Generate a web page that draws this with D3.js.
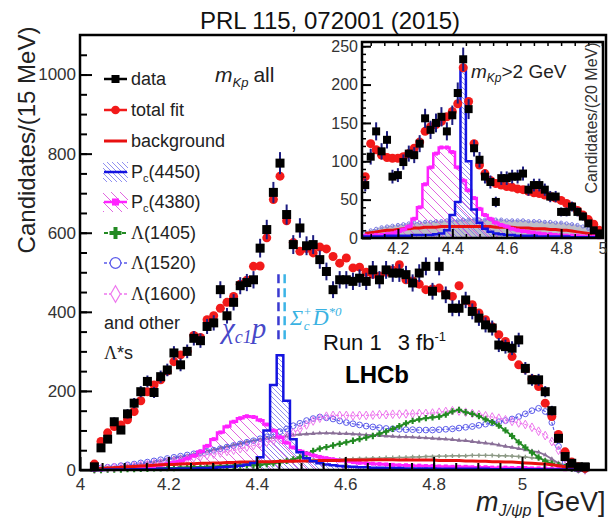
<!DOCTYPE html>
<html>
<head>
<meta charset="utf-8">
<title>LHCb Pc J/psi p mass</title>
<style>
  body { margin: 0; background: #fff; }
  text { font-family: Arial, "Liberation Sans", sans-serif; }
</style>
</head>
<body>
<script src="https://cdn.jsdelivr.net/npm/d3@7/dist/d3.min.js"></script>
<script>

// ---- main plot: m(J/psi p), 15 MeV bins ----
var massBins = [4.0325, 4.0475, 4.0625, 4.0775, 4.0925, 4.1075, 4.1225, 4.1375, 4.1525, 4.1675,
                4.1825, 4.1975, 4.2125, 4.2275, 4.2425, 4.2575, 4.2725, 4.2875, 4.3025, 4.3175,
                4.3325, 4.3475, 4.3625, 4.3775, 4.3925, 4.4075, 4.4225, 4.4375, 4.4525, 4.4675,
                4.4825, 4.4975, 4.5125, 4.5275, 4.5425, 4.5575, 4.5725, 4.5875, 4.6025, 4.6175,
                4.6325, 4.6475, 4.6625, 4.6775, 4.6925, 4.7075, 4.7225, 4.7375, 4.7525, 4.7675,
                4.7825, 4.7975, 4.8125, 4.8275, 4.8425, 4.8575, 4.8725, 4.8875, 4.9025, 4.9175,
                4.9325, 4.9475, 4.9625, 4.9775, 4.9925, 5.0075, 5.0225, 5.0375, 5.0525, 5.0675,
                5.0825, 5.0975, 5.1125, 5.1275, 5.1425];
var dataCounts = [8, 56, 78, 122, 101, 142, 169, 198, 224, 196,
                  236, 253, 296, 266, 300, 333, 327, 363, 372, 456,
                  390, 424, 466, 474, 481, 561, 608, 702, 776, 646,
                  570, 612, 567, 570, 532, 502, 456, 481, 481, 477,
                  485, 477, 506, 481, 506, 498, 498, 494, 473, 498,
                  515, 452, 515, 443, 409, 409, 430, 401, 384, 367,
                  359, 316, 312, 308, 329, 257, 228, 228, 198, 150,
                  80, 34, 17, 8, 8];
var totalFit = [15, 72, 94, 110, 114, 127, 148, 175, 198, 215,
                228, 250, 274, 291, 300, 340, 335, 380, 390, 409,
                424, 439, 470, 480, 515, 516, 587, 684, 743, 630,
                575, 553, 560, 549, 564, 559, 540, 523, 536, 511,
                513, 500, 495, 490, 500, 505, 519, 481, 478, 470,
                456, 458, 460, 445, 439, 466, 428, 418, 397, 380,
                362, 342, 325, 287, 266, 255, 230, 211, 169, 135,
                90, 46, 20, 8, 4];
var bkgFit = [3, 4, 5, 6, 7, 8, 9, 10, 11, 12,
              13, 14, 14, 15, 16, 16, 17, 17, 18, 18,
              19, 19, 20, 20, 20, 21, 21, 21, 22, 22,
              22, 23, 23, 23, 24, 24, 24, 24, 25, 25,
              25, 25, 26, 26, 26, 26, 25, 26, 25, 25,
              25, 25, 24, 24, 24, 24, 23, 23, 22, 22,
              21, 21, 20, 20, 19, 18, 17, 16, 15, 13,
              11, 8, 5, 2, 1];
var pc4450 = [0, 0, 1, 1, 1, 1, 2, 2, 2, 2,
              3, 3, 3, 4, 4, 4, 5, 5, 6, 7,
              8, 9, 11, 13, 18, 32, 100, 215, 290, 175,
              78, 45, 30, 22, 17, 14, 12, 10, 9, 8,
              7, 7, 6, 6, 5, 5, 5, 4, 4, 4,
              4, 4, 3, 3, 3, 3, 3, 3, 3, 3,
              2, 2, 2, 2, 2, 2, 2, 2, 1, 1,
              1, 1, 1, 0, 0];
var pc4380 = [1, 1, 2, 2, 3, 4, 5, 6, 8, 10,
              12, 15, 19, 23, 29, 36, 47, 61, 78, 95,
              110, 122, 131, 136, 134, 126, 115, 100, 83, 69,
              57, 48, 42, 37, 33, 30, 27, 24, 22, 20,
              18, 17, 16, 15, 14, 13, 12, 12, 11, 11,
              10, 10, 9, 9, 8, 8, 8, 7, 7, 7,
              6, 6, 6, 5, 5, 5, 4, 4, 4, 3,
              3, 2, 2, 1, 1];
var lam1405 = [0, 0, 1, 1, 1, 2, 2, 3, 3, 4,
               4, 5, 5, 6, 6, 7, 7, 8, 8, 9,
               10, 10, 11, 12, 12, 13, 15, 17, 19, 23,
               27, 32, 40, 48, 54, 58, 62, 66, 70, 74,
               78, 82, 86, 92, 97, 104, 111, 118, 124, 128,
               131, 133, 135, 140, 148, 152, 146, 142, 136, 128,
               121, 112, 100, 86, 70, 57, 44, 32, 22, 16,
               12, 7, 3, 1, 0];
var lam1520 = [3, 5, 7, 9, 11, 13, 15, 18, 20, 23,
               26, 29, 32, 35, 38, 41, 44, 47, 50, 54,
               58, 62, 66, 70, 74, 79, 84, 90, 97, 104,
               112, 118, 125, 130, 134, 132, 129, 124, 120, 117,
               114, 111, 109, 107, 105, 104, 103, 102, 102, 101,
               101, 101, 102, 103, 104, 106, 108, 110, 113, 116,
               119, 122, 125, 129, 135, 142, 150, 156, 148, 120,
               60, 20, 5, 1, 0];
var lam1600 = [2, 3, 4, 6, 7, 8, 10, 12, 14, 16,
               18, 20, 22, 25, 28, 31, 34, 37, 40, 43,
               47, 50, 54, 58, 62, 66, 70, 74, 78, 86,
               94, 104, 114, 124, 131, 136, 138, 138, 138, 137,
               138, 138, 139, 140, 140, 141, 141, 142, 142, 143,
               143, 144, 146, 148, 150, 149, 146, 143, 140, 137,
               134, 131, 127, 123, 119, 115, 108, 98, 87, 72,
               50, 28, 10, 2, 0];
var otherLam = [1, 2, 3, 5, 7, 9, 12, 14, 17, 20,
                23, 27, 30, 33, 36, 40, 43, 47, 51, 55,
                59, 63, 67, 71, 74, 77, 80, 82, 84, 86,
                88, 90, 91, 92, 93, 93, 93, 92, 92, 91,
                90, 89, 88, 87, 86, 85, 84, 84, 83, 82,
                81, 80, 79, 78, 77, 75, 74, 72, 70, 68,
                66, 63, 60, 57, 54, 51, 48, 45, 38, 28,
                17, 8, 3, 1, 0];
var otherLam2 = [0, 1, 1, 1, 2, 2, 3, 3, 4, 4,
                 5, 5, 6, 6, 7, 7, 8, 9, 10, 11,
                 12, 13, 14, 15, 16, 17, 18, 19, 20, 21,
                 22, 23, 24, 25, 25, 26, 27, 27, 28, 28,
                 29, 29, 30, 30, 31, 31, 32, 32, 33, 33,
                 34, 34, 35, 35, 36, 36, 36, 37, 37, 37,
                 37, 36, 36, 35, 34, 33, 31, 29, 26, 23,
                 18, 12, 6, 2, 0];

// ---- inset: m(Kp) > 2 GeV, 20 MeV bins ----
var insetBins = [4.08, 4.10, 4.12, 4.14, 4.16, 4.18, 4.20, 4.22, 4.24, 4.26,
                 4.28, 4.30, 4.32, 4.34, 4.36, 4.38, 4.40, 4.42, 4.44, 4.46,
                 4.48, 4.50, 4.52, 4.54, 4.56, 4.58, 4.60, 4.62, 4.64, 4.66,
                 4.68, 4.70, 4.72, 4.74, 4.76, 4.78, 4.80, 4.82, 4.84, 4.86,
                 4.88, 4.90, 4.92, 4.94];
var insetData = [69, 106, 139, 113, 128, 80, 82, 99, 110, 108,
                 123, 156, 141, 150, 158, 139, 160, 189, 233, 168,
                 117, 102, 80, 73, 47, 78, 78, 80, 80, 84,
                 63, 69, 69, 63, 54, 54, 34, 34, 41, 34,
                 28, 19, 10, 6];
var insetFit = [80, 123, 115, 108, 105, 104, 104, 106, 110, 117,
                125, 139, 145, 148, 152, 158, 165, 175, 222, 178,
                123, 95, 84, 75, 71, 69, 67, 66, 64, 63,
                61, 59, 58, 56, 54, 52, 49, 45, 41, 36,
                30, 24, 18, 10];
var insetPc4450 = [2, 2, 2, 2, 3, 3, 3, 3, 3, 4,
                   4, 4, 4, 5, 6, 10, 30, 47, 223, 100,
                   37, 20, 12, 8, 6, 5, 4, 4, 3, 3,
                   3, 3, 2, 2, 2, 2, 2, 2, 1, 1,
                   1, 1, 1, 1];
var insetPc4380 = [3, 3, 4, 4, 5, 6, 8, 11, 15, 25,
                   40, 70, 92, 110, 118, 118, 112, 92, 75, 62,
                   52, 38, 30, 25, 20, 17, 15, 12, 10, 9,
                   8, 7, 6, 5, 5, 4, 4, 3, 3, 3,
                   2, 2, 2, 1];
var insetBkg = [6, 7, 8, 9, 10, 10, 11, 12, 12, 13,
                13, 14, 14, 14, 15, 15, 15, 15, 15, 15,
                15, 15, 15, 15, 14, 14, 14, 14, 13, 13,
                13, 12, 12, 12, 11, 11, 10, 10, 9, 8,
                7, 6, 4, 2];
var insetOther = [8, 10, 12, 14, 15, 16, 17, 18, 19, 20,
                  20, 21, 21, 22, 22, 23, 23, 23, 24, 24,
                  24, 24, 24, 24, 24, 24, 23, 23, 23, 23,
                  22, 22, 22, 21, 21, 20, 20, 19, 18, 17,
                  15, 12, 9, 5];

// tick labels
var xTicks = [4, 4.2, 4.4, 4.6, 4.8, 5];
var xTickLabels = ["4", "4.2", "4.4", "4.6", "4.8", "5"];
var yTicks = [0, 200, 400, 600, 800, 1000];
var yTickLabels = ["0", "200", "400", "600", "800", "1000"];
var insetXTicks = [4.2, 4.4, 4.6, 4.8, 5];
var insetXTickLabels = ["4.2", "4.4", "4.6", "4.8", "5"];
var insetYTicks = [0, 50, 100, 150, 200, 250];

var legendLabels = ["data", "total fit", "background", "Pc(4450)", "Pc(4380)",
                    "Λ(1405)", "Λ(1520)", "Λ(1600)"];

// threshold lines
var chic1pThreshold = 4.449;
var sigmaDThreshold = 4.463;

var width = 608;
var height = 518;

var svg = d3.select("body")
            .append("svg")
            .attr("width", width)
            .attr("height", height);

// hatch patterns
var defs = svg.append("defs");
defs.append("pattern")
    .attr("id", "hatchBlue")
    .attr("patternUnits", "userSpaceOnUse")
    .attr("width", 5).attr("height", 5)
    .append("path")
    .attr("d", "M0,0 L5,5 M-1,4 L1,6 M4,-1 L6,1")
    .attr("stroke", "#7474ee")
    .attr("stroke-width", 0.8);
defs.append("pattern")
    .attr("id", "hatchMag")
    .attr("patternUnits", "userSpaceOnUse")
    .attr("width", 9).attr("height", 9)
    .append("path")
    .attr("d", "M0,0 L9,9 M-1,8 L1,10 M8,-1 L10,1")
    .attr("stroke", "#dd55dd")
    .attr("stroke-width", 0.9);

// scales
var x = d3.scaleLinear().domain([4.0, 5.19]).range([80, 606]);
var y = d3.scaleLinear().domain([0, 1100]).range([470, 35]);
var ix = d3.scaleLinear().domain([4.068, 4.954]).range([362, 603]);
var iy = d3.scaleLinear().domain([0, 255.5]).range([238, 42]);

// step outline of a histogram (closed to zero at both ends)
function histPath(sx, sy, bins, vals, w) {
  var pts = [[bins[0] - w / 2, 0]];
  bins.forEach(function(b, i) {
    pts.push([b - w / 2, vals[i]]);
    pts.push([b + w / 2, vals[i]]);
  });
  pts.push([bins[bins.length - 1] + w / 2, 0]);
  return d3.line()
           .x(function(d) { return sx(d[0]); })
           .y(function(d) { return sy(d[1]); })(pts);
}

function drawHist(g, sx, sy, bins, vals, w, color, lw, pattern) {
  if (pattern) {
    g.append("path")
     .attr("d", histPath(sx, sy, bins, vals, w) + "Z")
     .attr("fill", "url(#" + pattern + ")");
  }
  g.append("path")
   .attr("d", histPath(sx, sy, bins, vals, w))
   .attr("fill", "none")
   .attr("stroke", color)
   .attr("stroke-width", lw);
}

function drawCurve(g, sx, sy, bins, vals, color, lw, dash, symbol, size, filled) {
  var line = d3.line()
               .x(function(d, i) { return sx(bins[i]); })
               .y(function(d) { return sy(d); });
  g.append("path")
   .attr("d", line(vals))
   .attr("fill", "none")
   .attr("stroke", color)
   .attr("stroke-width", lw)
   .attr("stroke-dasharray", dash);
  if (symbol) {
    g.selectAll(null)
     .data(vals)
     .enter()
     .append("path")
     .attr("transform", function(d, i) { return "translate(" + sx(bins[i]) + "," + sy(d) + ")"; })
     .attr("d", d3.symbol().type(symbol).size(size))
     .attr("fill", filled ? color : "none")
     .attr("stroke", filled ? "none" : color)
     .attr("stroke-width", 1);
  }
}

function drawData(g, sx, sy, bins, vals, fit, sq, r) {
  // total fit points
  g.selectAll(null)
   .data(fit)
   .enter()
   .append("circle")
   .attr("cx", function(d, i) { return sx(bins[i]); })
   .attr("cy", function(d) { return sy(d); })
   .attr("r", r)
   .attr("fill", "#f21a1a");
  // error bars
  g.selectAll(null)
   .data(vals)
   .enter()
   .append("line")
   .attr("x1", function(d, i) { return sx(bins[i]); })
   .attr("x2", function(d, i) { return sx(bins[i]); })
   .attr("y1", function(d) { return sy(Math.max(0, d - Math.sqrt(d))); })
   .attr("y2", function(d) { return sy(d + Math.sqrt(d)); })
   .attr("stroke", "#1c1c80")
   .attr("stroke-width", 2);
  // data squares
  g.selectAll(null)
   .data(vals)
   .enter()
   .append("rect")
   .attr("x", function(d, i) { return sx(bins[i]) - sq / 2; })
   .attr("y", function(d) { return sy(d) - sq / 2; })
   .attr("width", sq)
   .attr("height", sq)
   .attr("fill", "#000");
}

function styleAxis(g, fontSize, lw) {
  g.select(".domain").remove();
  g.selectAll(".tick line").attr("stroke", "#000").attr("stroke-width", lw);
  g.selectAll(".tick text")
   .attr("fill", "#333")
   .style("font-size", fontSize + "px")
   .style("font-family", "Arial, 'Liberation Sans', sans-serif");
}

// ================= main plot =================
var main = svg.append("g");

// hatched Pc components
drawHist(main, x, y, massBins, pc4380, 0.015, "none", 0, "hatchMag");
drawHist(main, x, y, massBins, pc4450, 0.015, "none", 0, "hatchBlue");

// other Lambda* and Lambda components
drawCurve(main, x, y, massBins, otherLam2, "#8d9a86", 1.4, null, d3.symbolCross, 10, true);
drawCurve(main, x, y, massBins, otherLam, "#8a7098", 1.8, null, d3.symbolTriangle, 10, true);
drawCurve(main, x, y, massBins, lam1520, "#5b5bea", 1.2, "3,2", d3.symbolCircle, 26, false);
drawCurve(main, x, y, massBins, lam1600, "#ee77ee", 1.2, "3,2", d3.symbolDiamond, 22, false);
drawCurve(main, x, y, massBins, lam1405, "#238a23", 1.8, null, d3.symbolCross, 22, true);

// Pc(4380) magenta histogram with markers
drawHist(main, x, y, massBins, pc4380, 0.015, "#ff22ff", 2.5, null);
main.selectAll(null)
    .data(pc4380)
    .enter()
    .append("rect")
    .attr("x", function(d, i) { return x(massBins[i]) - 2; })
    .attr("y", function(d) { return y(d) - 2; })
    .attr("width", 4).attr("height", 4)
    .attr("fill", "#ff22ff");

// background
drawCurve(main, x, y, massBins, bkgFit, "#e81010", 3, null, null);

// Pc(4450) blue histogram
drawHist(main, x, y, massBins, pc4450, 0.015, "#1414e0", 2.5, null);

// data and total fit
drawData(main, x, y, massBins, dataCounts, totalFit, 9, 4.5);

// threshold dashed lines
main.append("line")
    .attr("x1", x(chic1pThreshold)).attr("x2", x(chic1pThreshold))
    .attr("y1", y(495)).attr("y2", y(322))
    .attr("stroke", "#3a3ad0").attr("stroke-width", 2.5).attr("stroke-dasharray", "9,5");
main.append("line")
    .attr("x1", x(sigmaDThreshold)).attr("x2", x(sigmaDThreshold))
    .attr("y1", y(495)).attr("y2", y(322))
    .attr("stroke", "#3cb4e6").attr("stroke-width", 2.5).attr("stroke-dasharray", "9,5");

// axes (ticks pointing inward)
var gy = svg.append("g").attr("transform", "translate(80,0)")
            .call(d3.axisLeft(y).tickValues(yTicks).tickSize(-12).tickPadding(4)
                    .tickFormat(function(d, i) { return yTickLabels[i]; }));
styleAxis(gy, 17, 2);
var gyMinor = svg.append("g").attr("transform", "translate(80,0)")
                 .call(d3.axisLeft(y).tickValues(d3.range(50, 1100, 50)).tickSize(-7).tickFormat(""));
styleAxis(gyMinor, 17, 2);

var gx = svg.append("g").attr("transform", "translate(0,470)")
            .call(d3.axisBottom(x).tickValues(xTicks).tickSize(-13).tickPadding(8)
                    .tickFormat(function(d, i) { return xTickLabels[i]; }));
styleAxis(gx, 17, 2);
var gxMinor = svg.append("g").attr("transform", "translate(0,470)")
                 .call(d3.axisBottom(x).tickValues(d3.range(4.05, 5.19, 0.05)).tickSize(-7).tickFormat(""));
styleAxis(gxMinor, 17, 2);

// frame
svg.append("rect")
   .attr("x", 80).attr("y", 35)
   .attr("width", 526).attr("height", 435)
   .attr("fill", "none")
   .attr("stroke", "#000")
   .attr("stroke-width", 2.5);

// ================= inset =================
svg.append("rect")
   .attr("x", 362).attr("y", 42)
   .attr("width", 241).attr("height", 196)
   .attr("fill", "#fff");

var inset = svg.append("g");

// low components at bottom of inset
inset.append("path")
     .attr("d", d3.area()
                  .x(function(d, i) { return ix(insetBins[i]); })
                  .y0(iy(0))
                  .y1(function(d) { return iy(d); })(insetOther))
     .attr("fill", "#a8a8b4")
     .attr("opacity", 0.75);
drawCurve(inset, ix, iy, insetBins, insetOther, "#7a7ae0", 1, "2,2", d3.symbolCircle, 8, false);

drawHist(inset, ix, iy, insetBins, insetPc4380, 0.02, "none", 0, "hatchMag");
drawHist(inset, ix, iy, insetBins, insetPc4450, 0.02, "none", 0, "hatchBlue");
drawCurve(inset, ix, iy, insetBins, insetBkg, "#e81010", 3, null, null);
drawHist(inset, ix, iy, insetBins, insetPc4380, 0.02, "#ff22ff", 2.5, null);
inset.selectAll(null)
     .data(insetPc4380)
     .enter()
     .append("rect")
     .attr("x", function(d, i) { return ix(insetBins[i]) - 2; })
     .attr("y", function(d) { return iy(d) - 2; })
     .attr("width", 4).attr("height", 4)
     .attr("fill", "#ff22ff");
drawHist(inset, ix, iy, insetBins, insetPc4450, 0.02, "#1414e0", 2.5, null);

drawData(inset, ix, iy, insetBins, insetData, insetFit, 8, 4.5);

// inset axes
var iyAxis = svg.append("g").attr("transform", "translate(362,0)")
                .call(d3.axisLeft(iy).tickValues(insetYTicks).tickSize(-9).tickPadding(4));
styleAxis(iyAxis, 16, 2);
var iyMinor = svg.append("g").attr("transform", "translate(362,0)")
                 .call(d3.axisLeft(iy).tickValues(d3.range(10, 255, 10)).tickSize(-4).tickFormat(""));
styleAxis(iyMinor, 16, 1.5);

var ixAxis = svg.append("g").attr("transform", "translate(0,238)")
                .call(d3.axisBottom(ix).tickValues(insetXTicks).tickSize(-9).tickPadding(5)
                        .tickFormat(function(d, i) { return insetXTickLabels[i]; }));
styleAxis(ixAxis, 16, 2);
// the "5" tick sits just past the inset edge: pull its label back inside the page
ixAxis.selectAll(".tick")
      .filter(function(d) { return d === 5; })
      .select("text")
      .attr("text-anchor", "end")
      .attr("x", 607 - ix(5));
ixAxis.selectAll(".tick")
      .filter(function(d) { return d === 5; })
      .select("line")
      .remove();
var ixMinor = svg.append("g").attr("transform", "translate(0,238)")
                 .call(d3.axisBottom(ix).tickValues(d3.range(4.1, 4.96, 0.05)).tickSize(-4).tickFormat(""));
styleAxis(ixMinor, 16, 1.5);
var ixTop = svg.append("g").attr("transform", "translate(0,42)")
               .call(d3.axisTop(ix).tickValues(d3.range(4.1, 4.96, 0.05)).tickSize(-4).tickFormat(""));
styleAxis(ixTop, 16, 1.5);

svg.append("rect")
   .attr("x", 362).attr("y", 42)
   .attr("width", 241).attr("height", 196)
   .attr("fill", "none")
   .attr("stroke", "#000")
   .attr("stroke-width", 2.5);

// inset y title
svg.append("text")
   .attr("transform", "translate(597,118) rotate(-90)")
   .attr("text-anchor", "middle")
   .attr("fill", "#333")
   .style("font-size", "16px")
   .text("Candidates/(20 MeV)");

// inset label m_Kp > 2 GeV
var insetLab = svg.append("text")
                  .attr("x", 471).attr("y", 78)
                  .attr("fill", "#222")
                  .style("font-size", "19px");
insetLab.append("tspan").style("font-style", "italic").text("m");
insetLab.append("tspan").style("font-style", "italic").style("font-size", "12px").attr("dy", 4).text("Kp");
insetLab.append("tspan").attr("dy", -4).text(">2 GeV");

// ================= text =================
svg.append("text")
   .attr("x", 330).attr("y", 29)
   .attr("text-anchor", "middle")
   .attr("fill", "#111")
   .style("font-size", "24px")
   .text("PRL 115, 072001 (2015)");

svg.append("text")
   .attr("transform", "translate(35,140) rotate(-90)")
   .attr("text-anchor", "middle")
   .attr("fill", "#222")
   .style("font-size", "24px")
   .text("Candidates/(15 MeV)");

// x axis title
var xTitle = svg.append("text")
                .attr("x", 476).attr("y", 511)
                .attr("fill", "#222")
                .style("font-size", "27px");
xTitle.append("tspan").style("font-style", "italic").text("m");
xTitle.append("tspan").style("font-style", "italic").style("font-size", "16px").attr("dy", 5).text("J/ψp");
xTitle.append("tspan").attr("dy", -5).attr("dx", 5).text("[GeV]");

// m_Kp all
var allLab = svg.append("text")
                .attr("x", 215).attr("y", 82)
                .attr("fill", "#222")
                .style("font-size", "21px");
allLab.append("tspan").style("font-style", "italic").text("m");
allLab.append("tspan").style("font-style", "italic").style("font-size", "13px").attr("dy", 5).text("Kp");
allLab.append("tspan").attr("dy", -5).attr("dx", 5).text("all");

// chi_c1 p label
var chiLab = svg.append("text")
                .attr("x", 222).attr("y", 338)
                .attr("fill", "#4848c8")
                .style("font-family", "'Liberation Serif', serif")
                .style("font-style", "italic")
                .style("font-size", "29px");
chiLab.append("tspan").text("χ");
chiLab.append("tspan").style("font-size", "18px").attr("dy", 5).text("c1");
chiLab.append("tspan").attr("dy", -5).text("p");

// Sigma_c D*0 label
var sigLab = svg.append("text")
                .attr("x", 290).attr("y", 325)
                .attr("fill", "#3ab2e2")
                .style("font-family", "'Liberation Serif', serif")
                .style("font-style", "italic")
                .style("font-size", "22px");
sigLab.append("tspan").text("Σ");
sigLab.append("tspan").style("font-size", "13px").attr("dy", -9).text("+");
sigLab.append("tspan").style("font-size", "13px").attr("dx", -8).attr("dy", 14).text("c");
sigLab.append("tspan").attr("dy", -5).attr("dx", 3).text("D\u0305");
sigLab.append("tspan").style("font-size", "13px").attr("dy", -9).text("*0");

// Run 1 label
var runLab = svg.append("text")
                .attr("x", 323).attr("y", 350)
                .attr("fill", "#111")
                .style("font-size", "22px");
runLab.append("tspan").text("Run 1");
runLab.append("tspan").attr("dx", 16).text("3 fb");
runLab.append("tspan").style("font-size", "13px").attr("dy", -9).text("-1");

svg.append("text")
   .attr("x", 345).attr("y", 383)
   .attr("fill", "#000")
   .style("font-size", "24px")
   .style("font-weight", "bold")
   .text("LHCb");

// ================= legend =================
var legY = [79, 110, 141, 172, 202, 233, 263, 294];
var leg = svg.append("g");

legendLabels.forEach(function(lab, i) {
  var cy = legY[i];
  var t = leg.append("text")
             .attr("x", 131).attr("y", cy + 6)
             .attr("fill", "#222")
             .style("font-size", "18px");
  if (lab.indexOf("Pc") === 0) {
    t.append("tspan").text("P");
    t.append("tspan").style("font-size", "11px").attr("dy", 4).text("c");
    t.append("tspan").attr("dy", -4).text(lab.slice(2));
  } else if (lab.indexOf("Λ") === 0) {
    t.append("tspan").style("font-family", "'Liberation Serif', serif").text("Λ");
    t.append("tspan").text(lab.slice(1));
  } else {
    t.text(lab);
  }
});

// legend markers
function legLine(cy, color, lw, dash) {
  leg.append("line")
     .attr("x1", 104).attr("x2", 127)
     .attr("y1", cy).attr("y2", cy)
     .attr("stroke", color).attr("stroke-width", lw)
     .attr("stroke-dasharray", dash);
}
function legSym(cy, type, size, color, filled) {
  leg.append("path")
     .attr("transform", "translate(115.5," + cy + ")")
     .attr("d", d3.symbol().type(type).size(size))
     .attr("fill", filled ? color : "#fff")
     .attr("stroke", filled ? "none" : color)
     .attr("stroke-width", 1.2);
}

legLine(legY[0], "#000", 2.5, null);
legSym(legY[0], d3.symbolSquare, 64, "#000", true);
legLine(legY[1], "#f21a1a", 2.5, null);
legSym(legY[1], d3.symbolCircle, 60, "#f21a1a", true);
legLine(legY[2], "#e81010", 3, null);
leg.append("rect")
   .attr("x", 103).attr("y", legY[3] - 10)
   .attr("width", 25).attr("height", 20)
   .attr("fill", "url(#hatchBlue)");
legLine(legY[3], "#1414e0", 2.5, null);
leg.append("rect")
   .attr("x", 103).attr("y", legY[4] - 10)
   .attr("width", 25).attr("height", 20)
   .attr("fill", "url(#hatchMag)");
legLine(legY[4], "#ff22ff", 2.5, null);
legSym(legY[4], d3.symbolSquare, 50, "#ff22ff", true);
legLine(legY[5], "#238a23", 2, "4,2");
legSym(legY[5], d3.symbolCross, 80, "#238a23", true);
legLine(legY[6], "#5b5bea", 1.5, "3,2");
legSym(legY[6], d3.symbolCircle, 90, "#5b5bea", false);
legLine(legY[7], "#ee77ee", 1.5, "3,2");
legSym(legY[7], d3.symbolDiamond, 80, "#ee77ee", false);

leg.append("text")
   .attr("x", 104).attr("y", 329)
   .attr("fill", "#222")
   .style("font-size", "18px")
   .text("and other");
var lamS = leg.append("text")
              .attr("x", 104).attr("y", 359)
              .attr("fill", "#222")
              .style("font-size", "18px");
lamS.append("tspan").style("font-family", "'Liberation Serif', serif").text("Λ");
lamS.append("tspan").text("*s");

</script>
</body>
</html>
